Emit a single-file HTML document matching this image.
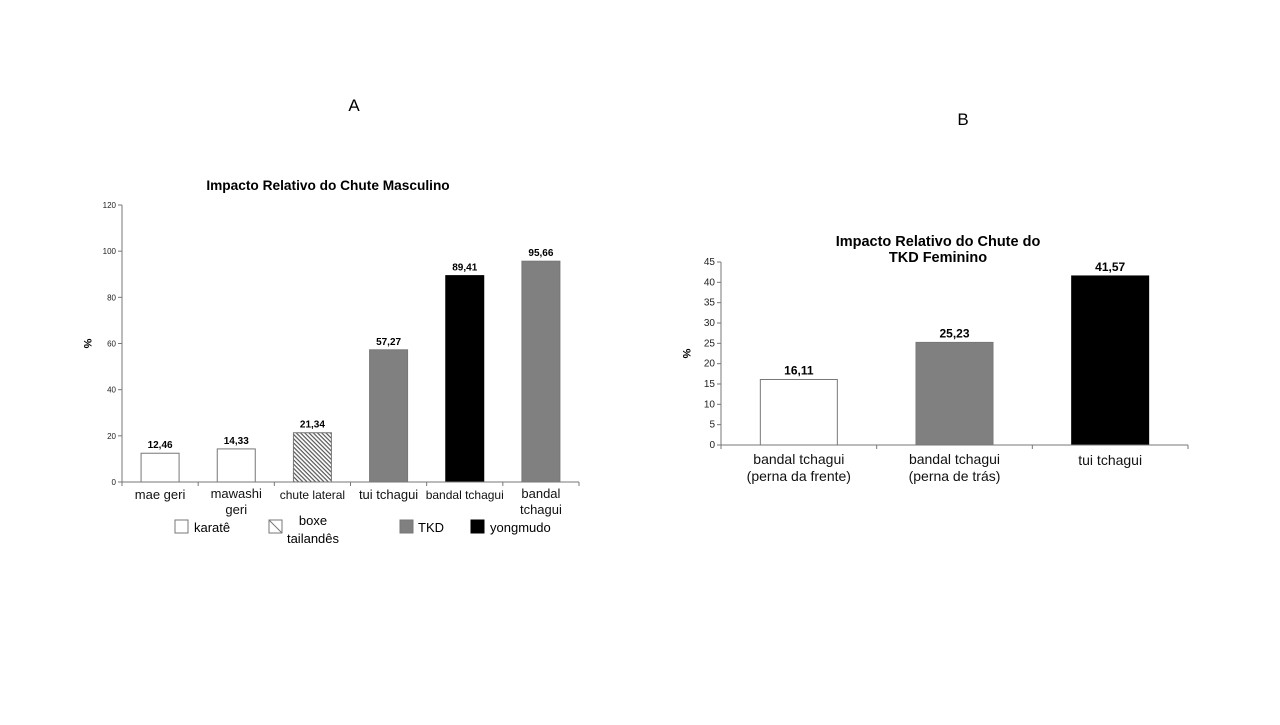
<!DOCTYPE html>
<html><head><meta charset="utf-8"><style>
body{margin:0;background:#fff;}
svg text{font-family:"Liberation Sans",Arial,sans-serif;}
</style></head><body>
<svg width="1280" height="720" xmlns="http://www.w3.org/2000/svg">
<defs>
<pattern id="hatch" width="3" height="3" patternUnits="userSpaceOnUse" patternTransform="rotate(45)">
<rect width="3" height="3" fill="#fff"/><rect width="3" height="1.2" fill="#555"/>
</pattern>
</defs>
<text x="354" y="111" font-size="17" text-anchor="middle">A</text>
<text x="963" y="125" font-size="17" text-anchor="middle">B</text>
<g id="chartA"></g>
<g id="chartB"></g>
</svg>
<script>
const NS="http://www.w3.org/2000/svg";
const catsA=[["mae geri"],["mawashi","geri"],["chute lateral"],["tui tchagui"],["bandal tchagui"],["bandal","tchagui"]];
const valsA=[12.46,14.33,21.34,57.27,89.41,95.66];
const labelsA=["12,46","14,33","21,34","57,27","89,41","95,66"];
const fillsA=["#fff","#fff","url(#hatch)","#808080","#000","#808080"];
const ticksA=[0,20,40,60,80,100,120];
const catsB=[["bandal tchagui","(perna da frente)"],["bandal tchagui","(perna de trás)"],["tui tchagui"]];
const valsB=[16.11,25.23,41.57];
const labelsB=["16,11","25,23","41,57"];
const fillsB=["#fff","#808080","#000"];
const ticksB=[0,5,10,15,20,25,30,35,40,45];

function el(p,tag,attrs,txt){const e=document.createElementNS(NS,tag);for(const k in attrs)e.setAttribute(k,attrs[k]);if(txt!==undefined)e.textContent=txt;p.appendChild(e);return e;}

function draw(g,o){
  const y=v=>o.y0-(v/o.max)*(o.y0-o.yTop);
  const n=o.cats.length,cw=(o.x1-o.x0)/n;
  const t=el(g,'text',{x:o.titleX,'font-size':o.titleFs,'font-weight':'bold','text-anchor':'middle'});
  
  
  o.title.forEach((s,i)=>el(t,'tspan',{x:o.titleX,y:o.titleY+i*16},s));
  const ya=el(g,'line',{x1:o.x0,y1:o.y0,x2:o.x0,y2:o.yTop,stroke:'#777'});
  
  
  o.ticks.forEach(v=>{
    el(g,'line',{x1:o.x0-4,x2:o.x0,y1:y(v),y2:y(v),stroke:'#777'});
    const tl=el(g,'text',{x:o.x0-6,y:y(v)+3,'font-size':o.tickFs,'text-anchor':'end',fill:'#222'},v);
    
    
  });
  const yt=el(g,'text',{x:0,y:0,'font-size':11,'font-weight':'bold','text-anchor':'middle',transform:`translate(${o.x0-38},${(o.y0+o.yTop)/2}) rotate(90)`},'%');
  
  
  o.vals.forEach((v,i)=>{
    const cx=o.x0+cw*(i+0.5);
    const b=el(g,'rect',{x:cx-o.bw/2,y:y(v),width:o.bw,height:o.y0-y(v),fill:o.fills[i],stroke:o.fills[i]==='#000'?'#000':'#777','stroke-width':1});
    
    
    const vl=el(g,'text',{x:cx,y:y(v)-5,'font-size':o.valFs,'font-weight':'bold','text-anchor':'middle'},o.labels[i]);
    
    
    const fs=(o.catFs[i]||o.catFs[0]);
    const lines=o.cats[i];
    const cl=el(g,'text',{x:cx,'font-size':fs,'text-anchor':'middle',fill:'#111'});
    
    
    const base=o.y0+o.catOff[lines.length-1];
    lines.forEach((s,j)=>el(cl,'tspan',{x:cx,y:base+j*o.catLh},s));
  });
  const xa=el(g,'line',{x1:o.x0,y1:o.y0,x2:o.x1,y2:o.y0,stroke:'#777'});
  
  
  for(let i=0;i<=n;i++)el(g,'line',{x1:o.x0+cw*i,x2:o.x0+cw*i,y1:o.y0,y2:o.y0+4,stroke:'#777'});
}

draw(document.getElementById('chartA'),{x0:122,x1:579,y0:482,yTop:205,max:120,bw:38,
  cats:catsA,vals:valsA,labels:labelsA,fills:fillsA,ticks:ticksA,tickFs:8,valFs:10,
  catFs:[13,13,12,13,12,13],catOff:[17,16],catLh:16,
  title:["Impacto Relativo do Chute Masculino"],titleX:328,titleY:190,titleFs:13.7});

draw(document.getElementById('chartB'),{x0:721,x1:1188,y0:445,yTop:262,max:45,bw:77,
  cats:catsB,vals:valsB,labels:labelsB,fills:fillsB,ticks:ticksB,tickFs:10,valFs:12,
  catFs:[14],catOff:[20,19],catLh:17,
  title:["Impacto Relativo do Chute do","TKD Feminino"],titleX:938,titleY:246,titleFs:14.5});

const L=document.querySelector('svg');
const lg=el(L,'g',{});


const items=[["karatê","#fff",175,194],["boxe","url(#hatch)",269,0],["TKD","#808080",400,418],["yongmudo","#000",471,490]];
items.forEach(([name,fill,bx,tx])=>{
  const e=el(lg,'g',{});
  
  
  el(e,'rect',{x:bx,y:520,width:13,height:13,fill:fill==='url(#hatch)'?'#fff':fill,stroke:fill==='#000'?'#000':'#777'});
  if(fill==='url(#hatch)'){el(e,'line',{x1:bx,y1:520,x2:bx+13,y2:533,stroke:'#777'});
    el(e,'text',{x:313,y:525,'font-size':13,'text-anchor':'middle'},'boxe');
    el(e,'text',{x:313,y:543,'font-size':13,'text-anchor':'middle'},'tailandês');
  } else el(e,'text',{x:tx,y:532,'font-size':13},name);
});
</script>
</body></html>
